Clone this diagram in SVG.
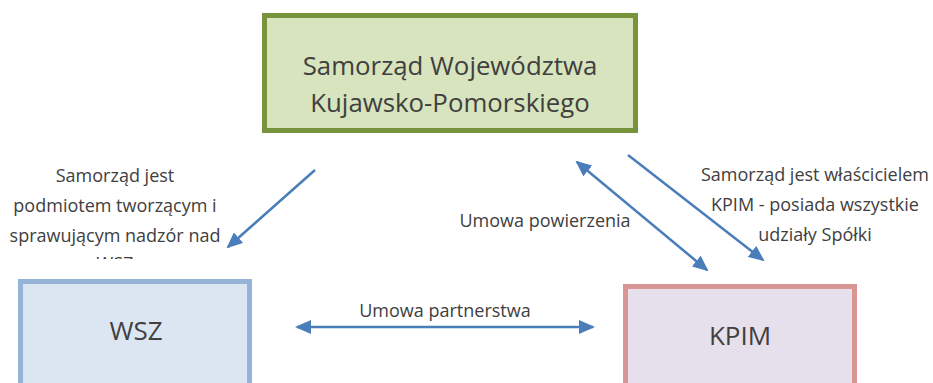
<svg xmlns="http://www.w3.org/2000/svg" width="933" height="383" viewBox="0 0 933 383">
<style>
text{font-family:"Open Sans","Noto Sans",sans-serif;fill:#404040;text-anchor:middle}
.lbl{font-size:18px}
.conn line{stroke:#4a7ebb;stroke-width:2.5;fill:none}
</style>
<defs>
<marker id="ah" viewBox="0 0 16 14" refX="14" refY="7" markerWidth="16" markerHeight="14" markerUnits="userSpaceOnUse" orient="auto-start-reverse">
<path d="M0,0 L16,7 L0,14 Z" fill="#4a7ebb"/>
</marker>
<clipPath id="cl"><rect x="0" y="0" width="933" height="259"/></clipPath>
</defs>
<rect width="933" height="383" fill="#fff"/>
<g id="samorzad">
<rect x="264.5" y="15.5" width="371" height="115" fill="#d7e4bd" stroke="#77933c" stroke-width="5"/>
<text x="450" y="75" font-size="25.8">Samorząd Województwa</text>
<text x="450" y="112" font-size="25.8">Kujawsko-Pomorskiego</text>
</g>
<g id="wsz">
<rect x="20.5" y="281.5" width="229" height="110" fill="#dce6f2" stroke="#95b3d7" stroke-width="5"/>
<text x="136" y="340" font-size="26">WSZ</text>
</g>
<g id="kpim">
<rect x="625.5" y="286.5" width="229" height="110" fill="#e6e0ec" stroke="#d99694" stroke-width="5"/>
<text x="740" y="345" font-size="26">KPIM</text>
</g>
<g class="conn" id="connectors">
<line x1="315" y1="170" x2="228" y2="247" marker-end="url(#ah)"/>
<line x1="577" y1="162" x2="707" y2="270" marker-start="url(#ah)" marker-end="url(#ah)"/>
<line x1="628" y1="155" x2="763" y2="260" marker-end="url(#ah)"/>
<line x1="297" y1="327" x2="593" y2="327" marker-start="url(#ah)" marker-end="url(#ah)"/>
</g>
<g id="labels">
<text class="lbl" x="115" y="182">Samorząd jest</text>
<text class="lbl" x="115" y="212">podmiotem tworzącym i</text>
<text class="lbl" x="115" y="242">sprawującym nadzór nad</text>
<text class="lbl" x="115" y="270" clip-path="url(#cl)">WSZ</text>
<text class="lbl" x="815" y="181">Samorząd jest właścicielem</text>
<text class="lbl" x="815" y="211">KPIM - posiada wszystkie</text>
<text class="lbl" x="815" y="241">udziały Spółki</text>
<text class="lbl" x="545" y="227">Umowa powierzenia</text>
<text class="lbl" x="445" y="317">Umowa partnerstwa</text>
</g>
</svg>
